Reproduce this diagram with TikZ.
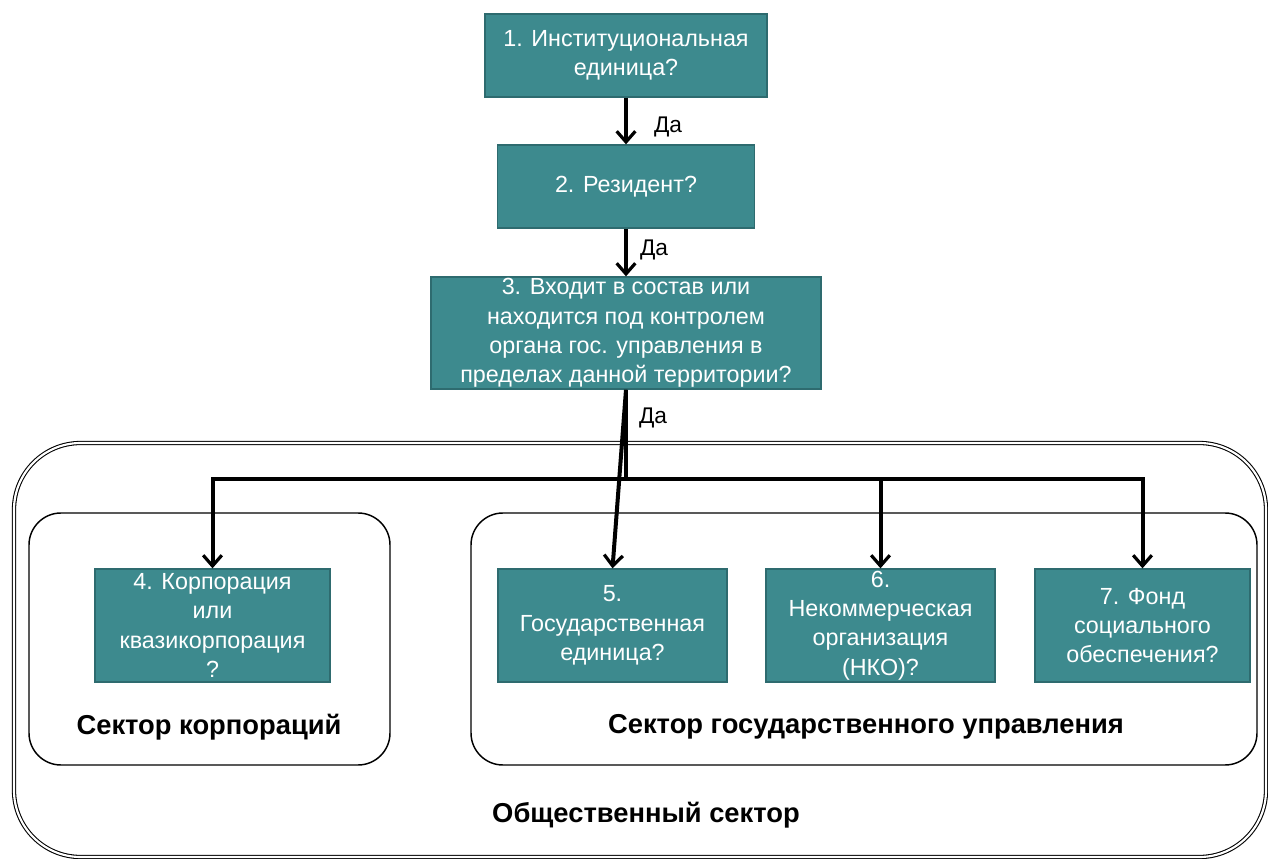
\documentclass[tikz,border=0pt]{standalone}
\usepackage{fontspec}
\setmainfont{Liberation Sans}
\usetikzlibrary{arrows.meta}
\definecolor{boxfill}{HTML}{3D8A8E}
\definecolor{boxline}{HTML}{2E6B6F}
\begin{document}
\begin{tikzpicture}[x=0.75pt, y=-0.75pt,
    qbox/.style={draw=boxline, line width=1pt, fill=boxfill, text=white,
        align=center, inner sep=0pt, font=\fontsize{17.5}{22}\selectfont},
    arr/.style={line width=3pt, -{Straight Barb[length=8pt, width=14pt, line width=2.4pt]}},
    yes/.style={font=\fontsize{17}{20}\selectfont},
    sector/.style={draw, line width=1.1pt, rounded corners=24pt},
    title/.style={font=\bfseries\fontsize{20.5}{24}\selectfont}]
    \useasboundingbox (0,0) rectangle (1268,859);

    % Рамки секторов
    \draw[line width=0.8pt, double, double distance=1.6pt, rounded corners=50pt]
        (14,443) rectangle (1266,857);
    \draw[sector] (29,513) rectangle (390,765);
    \draw[sector] (471,513) rectangle (1257,765);

    % Вопросы
    \node[qbox, minimum width=211.5pt, minimum height=62.25pt] (b1) at (626,55.5)
        {1. Институциональная\\единица?};
    \node[qbox, minimum width=192.75pt, minimum height=62.25pt] (b2) at (626,186.5)
        {2. Резидент?};
    \node[qbox, minimum width=292.5pt, minimum height=84pt] (b3) at (626,333)
        {3. Входит в состав или\\находится под контролем\\органа гос. управления в\\пределах данной территории?};
    \node[qbox, minimum width=176.25pt, minimum height=84.75pt] (b4) at (212.5,625.5)
        {4. Корпорация\\или\\квазикорпорация\\?};
    \node[qbox, minimum width=171.75pt, minimum height=84.75pt] (b5) at (612.5,625.5)
        {5.\\Государственная\\единица?};
    \node[qbox, minimum width=171.75pt, minimum height=84.75pt] (b6) at (880.5,625.5)
        {6.\\Некоммерческая\\организация\\(НКО)?};
    \node[qbox, minimum width=161.25pt, minimum height=84.75pt] (b7) at (1142.5,625.5)
        {7. Фонд\\социального\\обеспечения?};

    % Стрелки
    \draw[arr] (b1.south) -- (b2.north);
    \draw[arr] (b2.south) -- (b3.north);
    \coordinate (split) at (626,479);
    \draw[line width=3pt] (b3.south) -- (split);
    \draw[arr] (b3.south) -- (b5.north);
    \draw[arr] (split) -| (b4.north);
    \draw[arr] (split) -| (b6.north);
    \draw[arr] (split) -| (b7.north);

    \node[yes] (da1) at (668,127) {Да};
    \node[yes] (da2) at (654,250) {Да};
    \node[yes] (da3) at (653,418) {Да};

    % Подписи
    \node[title] (t4) at (209,727) {Сектор корпораций};
    \node[title] (t5) at (866,727) {Сектор государственного управления};
    \node[title] (t0) at (646,815) {Общественный сектор};
\end{tikzpicture}
\end{document}
